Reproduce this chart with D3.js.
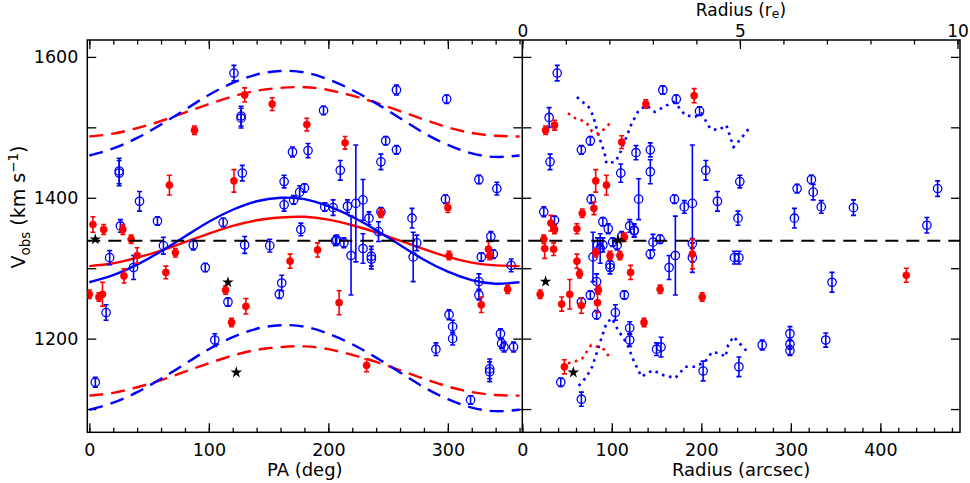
<!DOCTYPE html>
<html><head><meta charset="utf-8">
<script src="https://cdn.jsdelivr.net/npm/d3@7/dist/d3.min.js"></script>
<style>body{margin:0;background:#fff}svg text{font-family:"DejaVu Sans",sans-serif;fill:#000}</style>
</head><body><svg id="c" width="970" height="483"></svg>
<script>
// ---------- data ----------
const sysVel = 1339;
// left panel: [PA deg, V km/s, err km/s]
const paBlue = [[121,1577,11],[127,1516,14],[127,1513,14],[196,1524,6],[257,1553,7],[299,1540,6],[170,1465,7],[183,1467,10],[248,1481,6],[257,1468,6],[244,1451,11],[210,1439,14],[25,1438,18],[25,1435,18],[128,1435,11],[326,1426,6],[341,1413,9],[42,1395,14],[163,1423,9],[163,1390,9],[171,1397,6],[176,1408,9],[180,1414,6],[197,1387,6],[204,1386,11],[216,1388,9],[223,1392,83],[112,1365,6],[57,1367,6],[26,1360,9],[244,1380,6],[234,1371,9],[242,1352,14],[270,1371,14],[298,1398,6],[177,1355,9],[336,1345,7],[206,1339,7],[207,1340,7],[213,1336,7],[274,1336,11],[62,1332,12],[87,1333,7],[130,1333,12],[151,1332,9],[17,1315,10],[37,1301,17],[97,1301,6],[161,1279,11],[159,1263,6],[116,1252,6],[14,1237,11],[105,1198,9],[5,1138,7],[219,1318,56],[229,1328,21],[229,1397,29],[236,1317,14],[236,1313,14],[271,1316,35],[326,1281,11],[326,1262,7],[301,1234,7],[304,1217,9],[304,1200,9],[290,1185,9],[328,1316,6],[338,1320,6],[353,1304,9],[344,1207,7],[345,1193,7],[347,1188,7],[355,1188,7],[335,1157,14],[335,1153,14],[319,1113,6]];
const paRed = [[130,1546,10],[153,1533,9],[182,1504,9],[88,1496,6],[214,1478,9],[67,1418,14],[121,1424,16],[244,1378,6],[300,1386,7],[3,1362,11],[12,1355,7],[28,1355,7],[35,1341,6],[334,1327,11],[335,1318,6],[0,1263,6],[8,1259,6],[11,1263,17],[29,1289,10],[40,1318,11],[64,1294,9],[72,1322,6],[114,1269,6],[119,1223,6],[131,1246,11],[168,1310,10],[191,1326,10],[209,1251,17],[232,1162,9],[301,1318,6],[328,1248,11],[350,1270,6]];
const paStar = [[5,1341],[116,1280],[123,1152]];
// model curves vs PA
const modelPA   = [0,20,40,60,80,100,120,140,160,180,200,220,240,260,280,300,320,340,360];
const blueFit   = [1280,1290,1305,1324,1345,1366,1383,1395,1400,1398,1388,1373,1354,1333,1312,1295,1283,1278,1280];
const blueHigh  = [1460,1470,1485,1504,1525,1546,1563,1575,1580,1578,1568,1553,1534,1513,1492,1475,1463,1458,1460];
const blueLow   = [1099,1109,1124,1143,1164,1185,1202,1214,1219,1217,1207,1192,1173,1152,1131,1114,1102,1097,1099];
const redFit    = [1303,1307,1315,1325,1337,1349,1360,1368,1372,1373,1369,1361,1351,1339,1327,1316,1308,1304,1303];
const redHigh   = [1487,1491,1499,1509,1521,1533,1544,1552,1556,1557,1553,1545,1535,1523,1511,1500,1492,1488,1487];
const redLow    = [1119,1123,1131,1141,1153,1165,1176,1184,1188,1189,1185,1177,1167,1155,1143,1132,1124,1120,1119];
// right panel: [radius arcsec, V, err]
const rBlue = [[39,1577,11],[30,1514,14],[31,1451,11],[76,1481,6],[66,1468,6],[157,1553,6],[172,1540,6],[198,1523,6],[127,1464,10],[143,1468,10],[110,1435,13],[143,1437,17],[205,1439,14],[243,1423,9],[130,1398,29],[77,1398,6],[170,1398,6],[181,1387,9],[190,1392,83],[218,1395,14],[241,1371,10],[24,1380,7],[36,1368,6],[90,1366,6],[96,1356,7],[120,1360,9],[125,1353,9],[307,1413,6],[323,1426,6],[325,1408,11],[334,1387,9],[370,1386,11],[304,1371,14],[452,1361,11],[464,1413,11],[79,1316,35],[84,1333,10],[87,1328,21],[90,1333,10],[101,1337,6],[98,1305,9],[98,1301,9],[106,1333,7],[111,1345,7],[125,1354,9],[146,1337,11],[154,1341,6],[143,1320,6],[164,1301,17],[171,1318,56],[190,1315,21],[190,1335,7],[237,1315,9],[242,1315,9],[114,1262,6],[76,1262,6],[83,1281,11],[83,1234,6],[66,1252,6],[104,1237,11],[120,1215,9],[120,1198,9],[150,1185,9],[155,1188,14],[202,1154,14],[242,1160,14],[268,1191,7],[299,1207,10],[299,1192,7],[299,1183,7],[339,1198,10],[346,1280,14],[43,1138,6],[66,1114,10]];
const rRed = [[26,1496,6],[36,1503,7],[138,1533,6],[192,1545,10],[111,1479,9],[82,1424,16],[94,1418,14],[80,1385,9],[67,1378,6],[32,1364,11],[36,1355,6],[61,1356,7],[24,1341,6],[20,1263,6],[25,1328,14],[35,1327,9],[61,1310,10],[64,1292,6],[53,1263,21],[44,1249,10],[66,1247,11],[84,1251,14],[85,1269,6],[82,1322,6],[98,1318,6],[109,1318,6],[121,1294,10],[114,1344,6],[136,1223,6],[154,1270,6],[190,1320,21],[201,1259,6],[47,1160,10],[429,1290,10]];
const rStar = [[26,1281],[57,1152],[107,1340]];
// dispersion envelopes vs radius
const blueEnvHigh = [[61,1543],[74,1529],[79,1517],[83,1498],[87,1482],[92,1463],[94,1449],[104,1451],[109,1463],[115,1482],[122,1505],[130,1524],[139,1531],[148,1522],[158,1529],[169,1536],[176,1527],[182,1517],[193,1515],[200,1520],[210,1498],[219,1496],[228,1503],[236,1472],[243,1482],[253,1498]];
const blueEnvLow = [[63,1133],[72,1146],[78,1160],[83,1179],[89,1203],[94,1222],[100,1229],[107,1212],[117,1193],[124,1170],[133,1146],[146,1155],[158,1148],[171,1144],[182,1160],[193,1160],[204,1167],[212,1181],[221,1179],[227,1174],[230,1191],[236,1203],[243,1193],[253,1179]];
const redEnvHigh = [[51,1520],[59,1513],[66,1510],[72,1506],[78,1494],[85,1491],[92,1498],[98,1506]];
const redEnvLow = [[51,1165],[58,1167],[67,1172],[77,1191],[85,1188],[92,1184],[98,1172]];
// axis ticks
const yTicks = [1100,1200,1300,1400,1500,1600];
const yLabels = [1200,1400,1600];
const paMajor = [0,100,200,300];
const rMajor = [0,100,200,300,400];
const reMajor = [0,5,10];

// ---------- drawing ----------
const svg = d3.select("#c");
const T = 40, B = 432.3, L = 87.3, M = 522.3, R = 960;
const y = d3.scaleLinear().domain([1067,1624]).range([B,T]);
const xPA = d3.scaleLinear().domain([-1.7,362.3]).range([L,M]);
const xR = d3.scaleLinear().domain([0,489]).range([M,R]);
const xRe = d3.scaleLinear().domain([0,10]).range([M,957.5]);
const BLUE="#0000ff", RED="#ff0000";

const defs = svg.append("defs");
defs.append("clipPath").attr("id","cl").append("rect").attr("x",L).attr("y",T).attr("width",M-L).attr("height",B-T);
defs.append("clipPath").attr("id","cr").append("rect").attr("x",M).attr("y",T).attr("width",R-M).attr("height",B-T);

function axis(g, gen, fs){ g.call(gen); g.select(".domain").remove(); g.selectAll("line").attr("stroke","#000").attr("stroke-width",1.3); g.selectAll("text").attr("font-size",fs||17.5).attr("font-family","DejaVu Sans"); }

// left panel axes
axis(svg.append("g").attr("transform",`translate(0,${B})`), d3.axisBottom(xPA).tickValues(d3.range(0,361,20)).tickSize(-4.5).tickFormat(""));
axis(svg.append("g").attr("transform",`translate(0,${B})`), d3.axisBottom(xPA).tickValues(paMajor).tickSize(-9).tickPadding(11).tickFormat(d3.format("d")));
axis(svg.append("g").attr("transform",`translate(0,${T})`), d3.axisTop(xPA).tickValues(d3.range(0,361,20)).tickSize(-4.5).tickFormat(""));
axis(svg.append("g").attr("transform",`translate(0,${T})`), d3.axisTop(xPA).tickValues(paMajor).tickSize(-9).tickFormat(""));
axis(svg.append("g").attr("transform",`translate(${L},0)`), d3.axisLeft(y).tickValues(yTicks).tickSize(-9).tickPadding(9).tickFormat(d=>yLabels.includes(d)?d:""));
axis(svg.append("g").attr("transform",`translate(${M},0)`), d3.axisRight(y).tickValues(yTicks).tickSize(-9).tickFormat(""));
// right panel axes
axis(svg.append("g").attr("transform",`translate(0,${B})`), d3.axisBottom(xR).tickValues(d3.range(0,481,20)).tickSize(-4.5).tickFormat(""));
axis(svg.append("g").attr("transform",`translate(0,${B})`), d3.axisBottom(xR).tickValues(rMajor).tickSize(-9).tickPadding(11).tickFormat(d3.format("d")));
axis(svg.append("g").attr("transform",`translate(0,${T})`), d3.axisTop(xRe).tickValues(d3.range(0,11,1)).tickSize(-4.5).tickFormat(""));
axis(svg.append("g").attr("transform",`translate(0,${T})`), d3.axisTop(xRe).tickValues(reMajor).tickSize(-9).tickPadding(3).tickFormat(d3.format("d")), 17);
axis(svg.append("g").attr("transform",`translate(${M},0)`), d3.axisLeft(y).tickValues(yTicks).tickSize(-9).tickFormat(""));
axis(svg.append("g").attr("transform",`translate(${R},0)`), d3.axisRight(y).tickValues(yTicks).tickSize(-9).tickFormat(""));

// frames
svg.append("rect").attr("x",L).attr("y",T).attr("width",R-L).attr("height",B-T).attr("fill","none").attr("stroke","#000").attr("stroke-width",1.5);
svg.append("line").attr("x1",M).attr("x2",M).attr("y1",T).attr("y2",B).attr("stroke","#000").attr("stroke-width",1.5);

// axis titles
svg.append("text").attr("x",(L+M)/2).attr("y",476).attr("text-anchor","middle").attr("font-size",18).text("PA (deg)");
svg.append("text").attr("x",(M+R)/2).attr("y",476).attr("text-anchor","middle").attr("font-size",18).text("Radius (arcsec)");
const tt = svg.append("text").attr("x",741).attr("y",16).attr("text-anchor","middle").attr("font-size",17);
tt.append("tspan").text("Radius (r");
tt.append("tspan").attr("font-size",12.5).attr("dy",2).text("e");
tt.append("tspan").attr("dy",-2).text(")");
const yt = svg.append("text").attr("transform","translate(25,207) rotate(-90)").attr("text-anchor","middle").attr("font-size",19);
yt.append("tspan").text("V");
yt.append("tspan").attr("font-size",13.5).attr("dy",5).text("obs");
yt.append("tspan").attr("dy",-5).text(" (km s");
yt.append("tspan").attr("font-size",13.5).attr("dy",-7).text("−1");
yt.append("tspan").attr("dy",7).text(")");

// panels
const gl = svg.append("g").attr("clip-path","url(#cl)");
const gr = svg.append("g").attr("clip-path","url(#cr)");

// systemic velocity
svg.append("line").attr("x1",L).attr("x2",R).attr("y1",y(sysVel)).attr("y2",y(sysVel)).attr("stroke","#000").attr("stroke-width",2.2).attr("stroke-dasharray","13,8");

const lineM = d3.line().x((d,i)=>xPA(modelPA[i])).y(d=>y(d)).curve(d3.curveNatural);
function curve(arr,col,dash){ gl.append("path").attr("d",lineM(arr)).attr("fill","none").attr("stroke",col).attr("stroke-width",2.4).attr("stroke-dasharray",dash||null); }
curve(redHigh,RED,"14,8"); curve(redLow,RED,"14,8");
curve(blueHigh,BLUE,"14,8"); curve(blueLow,BLUE,"14,8");
curve(redFit,RED); curve(blueFit,BLUE);

const lineR = d3.line().x(d=>xR(d[0])).y(d=>y(d[1])).curve(d3.curveLinear);
function env(arr,col){ gr.append("path").attr("d",lineR(arr)).attr("fill","none").attr("stroke",col).attr("stroke-width",2.6).attr("stroke-dasharray","2.6,4.6"); }
env(blueEnvHigh,BLUE); env(blueEnvLow,BLUE); env(redEnvHigh,RED); env(redEnvLow,RED);

function points(g,x,data,col,open){
  const s = g.append("g");
  data.forEach(d=>{
    const cx=x(d[0]), y1=y(d[1]-d[2]), y2=y(d[1]+d[2]);
    s.append("line").attr("x1",cx).attr("x2",cx).attr("y1",y1).attr("y2",y2).attr("stroke",col).attr("stroke-width",1.6);
    s.append("line").attr("x1",cx-2.5).attr("x2",cx+2.5).attr("y1",y1).attr("y2",y1).attr("stroke",col).attr("stroke-width",1.6);
    s.append("line").attr("x1",cx-2.5).attr("x2",cx+2.5).attr("y1",y2).attr("y2",y2).attr("stroke",col).attr("stroke-width",1.6);
    s.append("circle").attr("cx",cx).attr("cy",y(d[1])).attr("r",open?4.2:3.6).attr("fill",open?"none":col).attr("stroke",col).attr("stroke-width",open?1.3:0.5);
  });
}
function stars(g,x,data){
  g.selectAll(null).data(data).join("path").attr("d",d3.symbol(d3.symbolStar,42)).attr("transform",d=>`translate(${x(d[0])},${y(d[1])})`).attr("fill","#000");
}
points(gl,xPA,paBlue,BLUE,true); points(gl,xPA,paRed,RED,false); stars(gl,xPA,paStar);
points(gr,xR,rBlue,BLUE,true); points(gr,xR,rRed,RED,false); stars(gr,xR,rStar);
</script></body></html>
